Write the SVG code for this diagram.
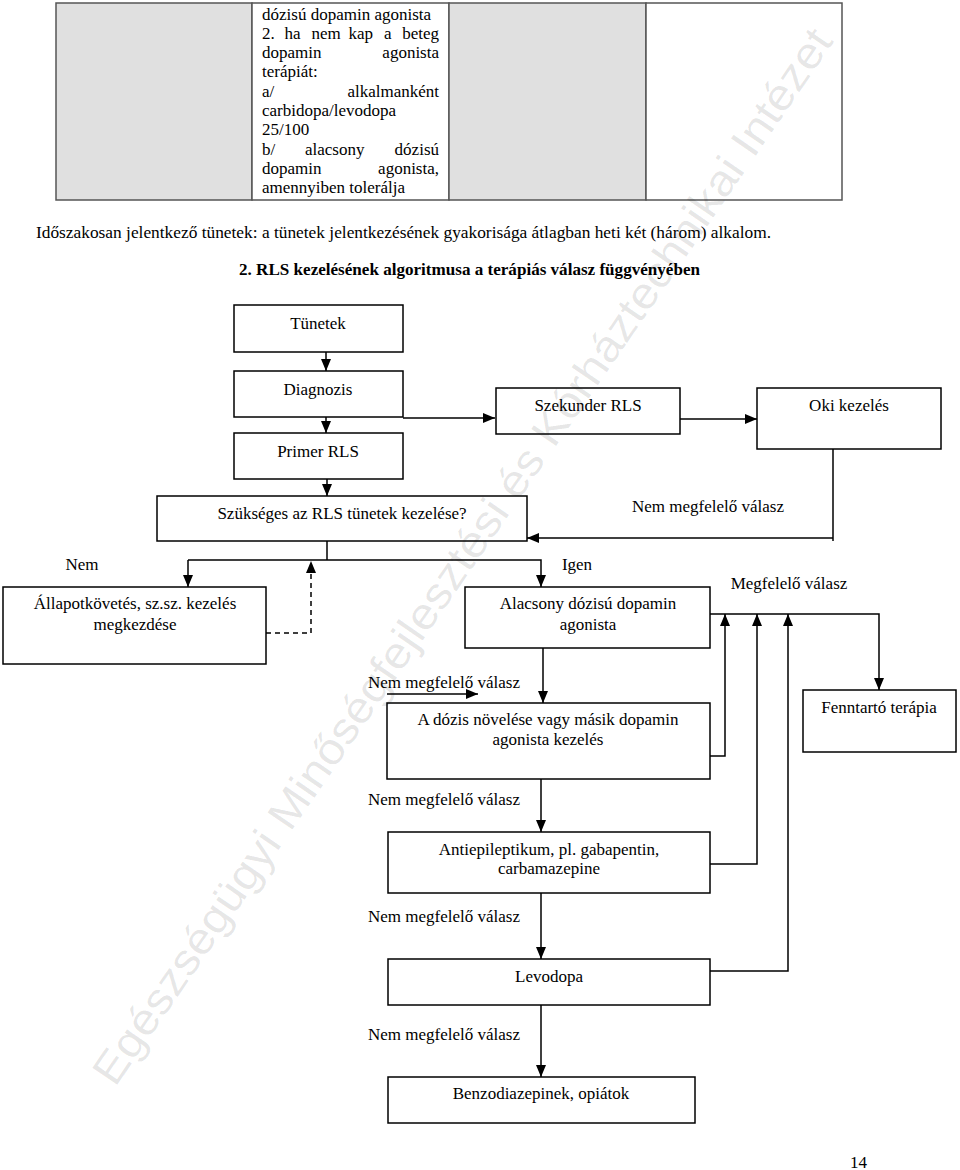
<svg xmlns="http://www.w3.org/2000/svg" width="960" height="1170" viewBox="0 0 960 1170">
<defs>
<style>
text{font-family:"Liberation Serif","Times New Roman",serif;font-size:17px;fill:#000}
.c{text-anchor:middle}
.r{text-anchor:end}
.box{fill:none;stroke:#000;stroke-width:1.5}
.ln{fill:none;stroke:#000;stroke-width:1.5}
.cell{stroke:#555;stroke-width:1.5}
.wm{font-family:"Liberation Sans",Arial,sans-serif;font-size:44px;fill:#000;fill-opacity:0.1}
</style>
<marker id="ah" markerUnits="userSpaceOnUse" markerWidth="12" markerHeight="12" viewBox="0 0 12 12" refX="12" refY="6" orient="auto">
<path d="M0,1 L12,6 L0,11 Z" fill="#000"/>
</marker>
</defs>
<rect width="960" height="1170" fill="#fff"/>
<g id="table">
<rect class="cell" x="56" y="3" width="196" height="197" fill="#e0e0e0"/>
<rect class="cell" x="252" y="3" width="197" height="197" fill="#fff"/>
<rect class="cell" x="449" y="3" width="197" height="197" fill="#e0e0e0"/>
<rect class="cell" x="646" y="3" width="196" height="197" fill="#fff"/>
<text x="262" y="19.5">dózisú dopamin agonista</text>
<text y="38.8"><tspan x="262">2.</tspan><tspan x="284.5">ha</tspan><tspan x="311.5">nem</tspan><tspan x="348.5">kap</tspan><tspan x="384">a</tspan></text><text class="r" x="439" y="38.8">beteg</text>
<text x="262" y="58.1">dopamin</text><text class="r" x="439" y="58.1">agonista</text>
<text x="262" y="77.4">terápiát:</text>
<text x="262" y="96.7">a/</text><text class="r" x="439" y="96.7">alkalmanként</text>
<text x="262" y="116">carbidopa/levodopa</text>
<text x="262" y="135.3">25/100</text>
<text y="154.6"><tspan x="262">b/</tspan><tspan x="305">alacsony</tspan></text><text class="r" x="439" y="154.6">dózisú</text>
<text x="262" y="173.9">dopamin</text><text class="r" x="439" y="173.9">agonista,</text>
<text x="262" y="193.2">amennyiben tolerálja</text>
</g>
<text x="36" y="238" textLength="735" lengthAdjust="spacingAndGlyphs">Időszakosan jelentkező tünetek: a tünetek jelentkezésének gyakorisága átlagban heti két (három) alkalom.</text>
<text x="239" y="275" font-weight="bold" textLength="461" lengthAdjust="spacingAndGlyphs">2. RLS kezelésének algoritmusa a terápiás válasz függvényében</text>
<text class="wm" transform="translate(115,1088) rotate(-55.5)" textLength="1270" lengthAdjust="spacingAndGlyphs">Egészségügyi Minőségfejlesztési és Kórháztechnikai Intézet</text>
<g id="connectors">
<line class="ln" x1="326" y1="352" x2="326" y2="371" marker-end="url(#ah)"/>
<line class="ln" x1="326" y1="417" x2="326" y2="433" marker-end="url(#ah)"/>
<line class="ln" x1="403" y1="418" x2="495" y2="418" marker-end="url(#ah)"/>
<line class="ln" x1="680" y1="419" x2="757" y2="419" marker-end="url(#ah)"/>
<polyline class="ln" points="833,449 833,541"/>
<line class="ln" x1="833" y1="538" x2="527" y2="538" marker-end="url(#ah)"/>
<line class="ln" x1="327" y1="479" x2="327" y2="496" marker-end="url(#ah)"/>
<line class="ln" x1="327" y1="541" x2="327" y2="560"/>
<polyline class="ln" points="188,560 541,560 541,587" marker-end="url(#ah)"/>
<line class="ln" x1="188" y1="560" x2="188" y2="587" marker-end="url(#ah)"/>
<polyline class="ln" points="266,633 311,633 311,561" stroke-dasharray="5,4" marker-end="url(#ah)"/>
<polyline class="ln" points="710,614 879,614 879,690" marker-end="url(#ah)"/>
<polyline class="ln" points="710,756 725,756 725,614" marker-end="url(#ah)"/>
<polyline class="ln" points="710,864 757,864 757,614" marker-end="url(#ah)"/>
<polyline class="ln" points="710,971 788,971 788,614" marker-end="url(#ah)"/>
<line class="ln" x1="543" y1="648" x2="543" y2="703" marker-end="url(#ah)"/>
<line class="ln" x1="387" y1="694" x2="478" y2="694" marker-end="url(#ah)"/>
<line class="ln" x1="541" y1="779" x2="541" y2="832" marker-end="url(#ah)"/>
<line class="ln" x1="541" y1="893" x2="541" y2="959" marker-end="url(#ah)"/>
<line class="ln" x1="541" y1="1005" x2="541" y2="1077" marker-end="url(#ah)"/>
<text x="708" y="512" class="c">Nem megfelelő válasz</text>
<text x="82" y="570" class="c">Nem</text>
<text x="577" y="570" class="c">Igen</text>
<text x="789" y="589" class="c">Megfelelő válasz</text>
<text x="368" y="688">Nem megfelelő válasz</text>
<text x="368" y="805">Nem megfelelő válasz</text>
<text x="368" y="922">Nem megfelelő válasz</text>
<text x="368" y="1040">Nem megfelelő válasz</text>
</g>
<g id="tunetek"><rect class="box" x="234" y="305" width="169" height="47"/><text class="c" x="318" y="329">Tünetek</text></g>
<g id="diagnozis"><rect class="box" x="234" y="371" width="169" height="46"/><text class="c" x="318" y="395">Diagnozis</text></g>
<g id="primer"><rect class="box" x="234" y="433" width="169" height="46"/><text class="c" x="318" y="457">Primer RLS</text></g>
<g id="szekunder"><rect class="box" x="496" y="388" width="184" height="46"/><text class="c" x="588" y="411">Szekunder RLS</text></g>
<g id="oki"><rect class="box" x="757" y="388" width="184" height="61"/><text class="c" x="849" y="411">Oki kezelés</text></g>
<g id="szukseges"><rect class="box" x="157" y="496" width="370" height="45"/><text class="c" x="342" y="519">Szükséges az RLS tünetek kezelése?</text></g>
<g id="allapot"><rect class="box" x="3" y="587" width="263" height="77"/><text class="c" x="135" y="609">Állapotkövetés, sz.sz. kezelés</text><text class="c" x="135" y="630">megkezdése</text></g>
<g id="alacsony"><rect class="box" x="465" y="587" width="245" height="61"/><text class="c" x="588" y="609">Alacsony dózisú dopamin</text><text class="c" x="588" y="630">agonista</text></g>
<g id="fenntarto"><rect class="box" x="803" y="690" width="153" height="62"/><text class="c" x="879" y="713">Fenntartó terápia</text></g>
<g id="adozis"><rect class="box" x="387" y="703" width="323" height="76"/><text class="c" x="548" y="725">A dózis növelése vagy másik dopamin</text><text class="c" x="548" y="745">agonista kezelés</text></g>
<g id="antiepi"><rect class="box" x="388" y="832" width="322" height="61"/><text class="c" x="549" y="855">Antiepileptikum, pl. gabapentin,</text><text class="c" x="549" y="874">carbamazepine</text></g>
<g id="levodopa"><rect class="box" x="388" y="959" width="322" height="46"/><text class="c" x="549" y="982">Levodopa</text></g>
<g id="benzo"><rect class="box" x="388" y="1077" width="307" height="46"/><text class="c" x="541" y="1099">Benzodiazepinek, opiátok</text></g>
<text x="850" y="1168">14</text>
</svg>
